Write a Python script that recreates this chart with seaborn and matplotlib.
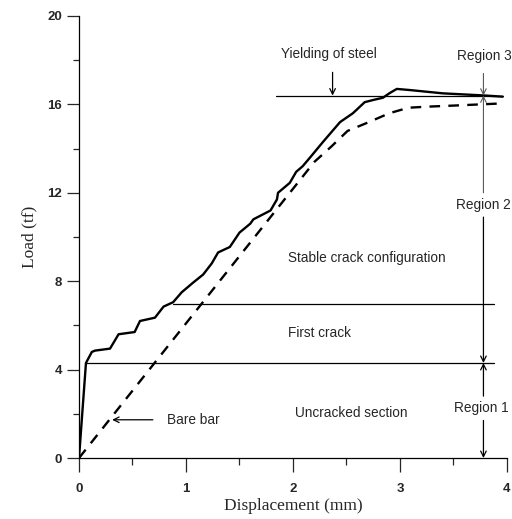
import matplotlib
matplotlib.use("Agg")
import matplotlib.pyplot as plt
import seaborn as sns
import pandas as pd

# Load-displacement response of the reinforced tension member
member_disp = [0, 0.065, 0.12, 0.15, 0.29, 0.37, 0.52, 0.57, 0.71, 0.79, 0.88, 0.96,
               1.07, 1.16, 1.24, 1.30, 1.41, 1.50, 1.60, 1.63, 1.79, 1.85, 1.86, 1.97,
               2.03, 2.09, 2.16, 2.28, 2.44, 2.56, 2.67, 2.75, 2.84, 2.90, 2.97, 3.09,
               3.40, 3.80, 3.96]
member_load = [0, 4.3, 4.8, 4.86, 4.95, 5.6, 5.7, 6.2, 6.35, 6.85, 7.05, 7.5,
               7.95, 8.3, 8.8, 9.3, 9.55, 10.2, 10.6, 10.8, 11.2, 11.7, 12.0, 12.45,
               12.95, 13.2, 13.6, 14.3, 15.2, 15.6, 16.1, 16.2, 16.3, 16.5, 16.7, 16.65,
               16.5, 16.4, 16.35]

# Bare steel bar response
bare_disp = [0, 2.2, 2.36, 2.51, 2.71, 2.9, 3.08, 3.27, 3.52, 3.98]
bare_load = [0, 13.4, 14.1, 14.8, 15.2, 15.6, 15.85, 15.9, 15.95, 16.05]

# Characteristic load levels
yield_load = 16.4
first_crack_load = 6.95
uncracked_load = 4.3
region_x = 3.78

x_ticks = [0, 1, 2, 3, 4]
y_ticks = [0, 4, 8, 12, 16, 20]

sns.set_style("ticks")
plt.rcParams["font.family"] = ["Liberation Sans", "DejaVu Sans"]

fig = plt.figure(figsize=(5.12, 5.19), dpi=100)
ax = fig.add_axes([0.1543, 0.1175, 0.8359, 0.8517])

member = pd.DataFrame({"disp": member_disp, "load": member_load})
bare = pd.DataFrame({"disp": bare_disp, "load": bare_load})

sns.lineplot(data=member, x="disp", y="load", sort=False, estimator=None,
             color="black", lw=1.7, ax=ax)
sns.lineplot(data=bare, x="disp", y="load", sort=False, estimator=None,
             color="black", lw=1.7, linestyle=(0, (4.5, 3.5)), ax=ax)

thin = dict(color="black", lw=0.9)
ax.plot([1.84, 3.96], [yield_load, yield_load], **thin)
ax.plot([0.88, 3.88], [first_crack_load, first_crack_load], **thin)
ax.plot([0.07, 3.88], [uncracked_load, uncracked_load], **thin)


def arrow(x0, y0, x1, y1, color="black", lw=0.9):
    ax.annotate("", xy=(x1, y1), xytext=(x0, y0),
                arrowprops=dict(arrowstyle="->", color=color, lw=lw,
                                shrinkA=0, shrinkB=0,
                                mutation_scale=10),
                annotation_clip=False)


# Region markers along the right side
arrow(region_x, 17.4, region_x, yield_load, color="0.35", lw=0.8)
arrow(region_x, 12.0, region_x, yield_load, color="0.35", lw=0.8)
arrow(region_x, 10.9, region_x, uncracked_load)
arrow(region_x, 2.8, region_x, uncracked_load)
arrow(region_x, 1.7, region_x, 0)

# Yielding and bare-bar pointers
arrow(2.37, 17.45, 2.37, yield_load)
arrow(0.69, 1.73, 0.31, 1.73)

fs = 9.8
txt = dict(fontsize=fs, ha="center", va="center", clip_on=False)
ax.text(2.34, 18.27, "Yielding of steel", **txt)
ax.text(3.79, 18.2, "Region 3", **txt)
ax.text(3.78, 11.45, "Region 2", **txt)
ax.text(2.69, 9.05, "Stable crack configuration", **txt)
ax.text(2.25, 5.64, "First crack", **txt)
ax.text(2.54, 2.05, "Uncracked section", **txt)
ax.text(3.76, 2.27, "Region 1", **txt)
ax.text(1.07, 1.73, "Bare bar", **txt)

ax.set_xlim(0, 4)
ax.set_ylim(0, 20)
ax.set_xticks(x_ticks)
ax.set_yticks(y_ticks)
ax.set_xticks([0.5, 1.5, 2.5, 3.5], minor=True)
ax.set_yticks([2, 6, 10, 14, 18], minor=True)
ax.set_xticklabels([str(v) for v in x_ticks], fontsize=9.5, fontweight="bold")
ax.set_yticklabels([str(v) for v in y_ticks], fontsize=9.5, fontweight="bold")
ax.tick_params(axis="x", which="major", direction="out", length=10, width=0.9, pad=8)
ax.tick_params(axis="x", which="minor", direction="out", length=5, width=0.9)
ax.tick_params(axis="y", which="major", direction="out", length=8.5, width=0.9, pad=3.5)
ax.tick_params(axis="y", which="minor", direction="out", length=4, width=0.9)

serif = ["Liberation Serif", "DejaVu Serif"]
ax.set_xlabel("Displacement (mm)", family=serif, fontsize=12.5, labelpad=2)
ax.set_ylabel("Load (tf)", family=serif, fontsize=12.5, labelpad=7)

sns.despine(ax=ax)
for s in ("left", "bottom"):
    ax.spines[s].set_linewidth(0.9)
    ax.spines[s].set_color("black")

fig.savefig("out.png", dpi=100)
